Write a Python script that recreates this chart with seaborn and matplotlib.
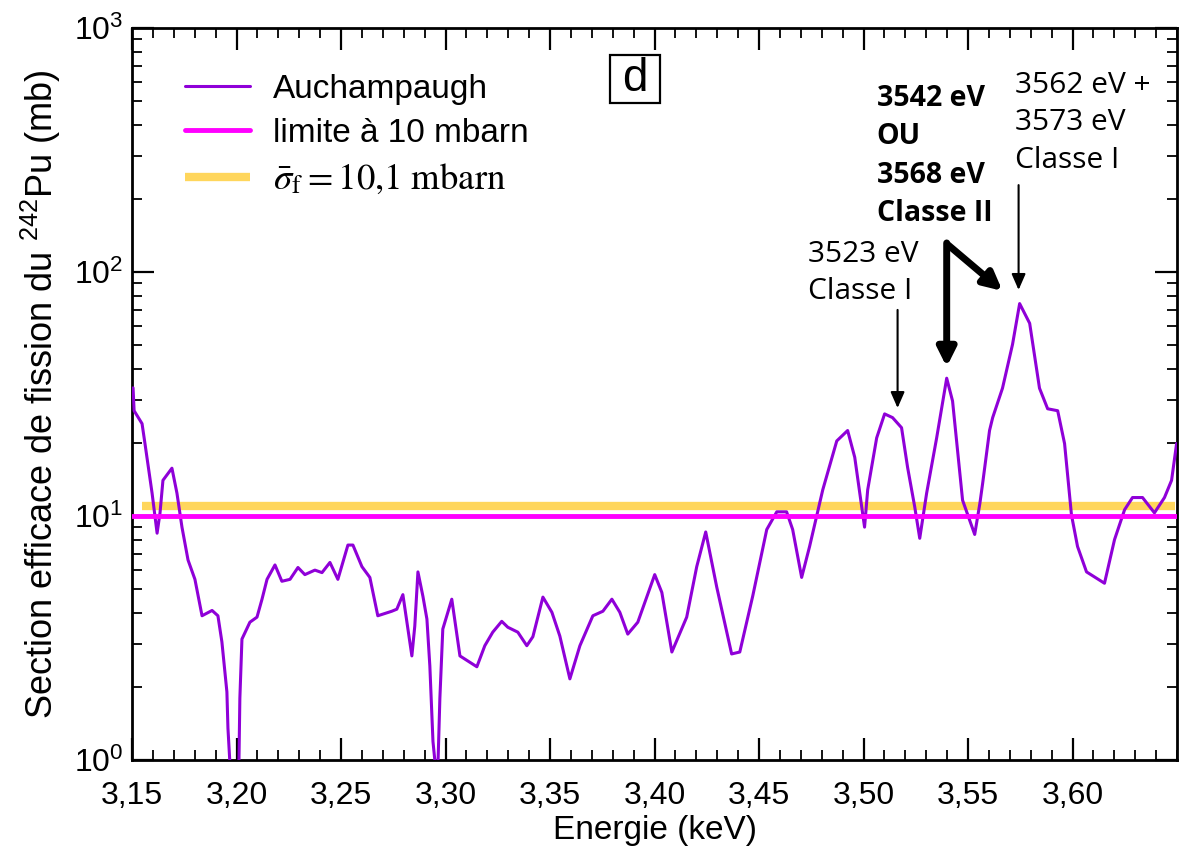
import numpy as np
import pandas as pd
import matplotlib
matplotlib.use("Agg")  # headless
import matplotlib.pyplot as plt
from matplotlib.font_manager import FontProperties
from matplotlib.patches import Rectangle
import seaborn as sns

# Auchampaugh data (keV, mb)
energy_kev = [3.1505, 3.151, 3.1548, 3.1562, 3.1596, 3.162, 3.1634, 3.1648, 3.1691, 3.1715,
              3.1739, 3.1768, 3.1801, 3.1835, 3.1883, 3.1911, 3.193, 3.1954, 3.1959, 3.1969,
              3.1985, 3.2005, 3.2016, 3.2026, 3.2064, 3.2098, 3.2122, 3.2146, 3.2184, 3.2217,
              3.2256, 3.2294, 3.2327, 3.2375, 3.2409, 3.2447, 3.2485, 3.2533, 3.2557, 3.26,
              3.2638, 3.2676, 3.2743, 3.2767, 3.2796, 3.282, 3.2839, 3.2853, 3.2868, 3.2892,
              3.2911, 3.2925, 3.294, 3.2954, 3.2963, 3.2973, 3.2987, 3.303, 3.3069, 3.315,
              3.3188, 3.3226, 3.3269, 3.3298, 3.3346, 3.3389, 3.3418, 3.3466, 3.3509, 3.3547,
              3.3595, 3.3643, 3.3705, 3.3753, 3.3796, 3.3834, 3.3872, 3.392, 3.4001, 3.4035,
              3.4083, 3.4154, 3.4202, 3.4245, 3.4298, 3.4369, 3.4408, 3.447, 3.4537, 3.4585,
              3.4632, 3.4661, 3.4704, 3.4742, 3.4805, 3.4872, 3.4924, 3.4958, 3.5005, 3.502,
              3.5063, 3.5101, 3.5139, 3.5182, 3.5211, 3.5245, 3.5269, 3.5302, 3.535, 3.5398,
              3.5426, 3.5474, 3.5532, 3.5557, 3.557, 3.5603, 3.5618, 3.5665, 3.5713, 3.5747,
              3.5795, 3.5842, 3.5881, 3.5929, 3.5962, 3.5995, 3.6024, 3.6067, 3.6153, 3.6201,
              3.6249, 3.6287, 3.6335, 3.6392, 3.644, 3.6474, 3.6498]
sigma_mb = [33.5, 27, 23.9, 19.8, 12.4, 8.5, 10.3, 14, 15.7, 12.4,
            9.0, 6.6, 5.5, 3.9, 4.1, 3.9, 3.05, 1.9, 1.35, 0.95,
            0.4, 0.4, 1.79, 3.13, 3.67, 3.85, 4.56, 5.5, 6.3, 5.4,
            5.5, 6.15, 5.75, 6.0, 5.86, 6.45, 5.5, 7.6, 7.6, 6.2,
            5.6, 3.9, 4.07, 4.15, 4.76, 3.44, 2.67, 3.54, 5.9, 4.68,
            3.78, 2.43, 1.19, 0.9, 0.9, 1.79, 3.44, 4.56, 2.67, 2.41,
            2.94, 3.34, 3.7, 3.5, 3.34, 2.94, 3.2, 4.65, 4.03, 3.22,
            2.15, 2.94, 3.9, 4.07, 4.56, 4.03, 3.28, 3.67, 5.75, 4.86,
            2.77, 3.85, 6.2, 8.6, 5.1, 2.72, 2.77, 4.7, 8.8, 10.4,
            10.4, 8.8, 5.6, 7.5, 12.8, 20.3, 22.4, 17.4, 9.0, 12.8,
            20.9, 26.2, 25.3, 23, 15.8, 10.9, 8.1, 12.4, 20.9, 36.7,
            29.6, 11.6, 8.4, 11.3, 13.6, 22.4, 25.3, 33.4, 50.5, 74.2,
            61.6, 33.4, 27.5, 27, 19.8, 10.1, 7.5, 5.9, 5.3, 8.0,
            10.6, 11.9, 11.9, 10.3, 11.9, 14, 19.8]

limit_mb = 10.0
mean_level_mb = 11.0          # as drawn in the picture (label says 10,1)
mean_span_kev = (3.155, 3.649)

x_ticks = [3.15, 3.20, 3.25, 3.30, 3.35, 3.40, 3.45, 3.50, 3.55, 3.60]
x_tick_labels = ["3,15", "3,20", "3,25", "3,30", "3,35", "3,40", "3,45", "3,50", "3,55", "3,60"]

df = pd.DataFrame({"E": energy_kev, "sigma": sigma_mb})

sns.set_theme(style="ticks", rc={"text.color": "black", "axes.labelcolor": "black",
                                 "axes.edgecolor": "black", "xtick.color": "black",
                                 "ytick.color": "black"})
plt.rcParams["font.family"] = ["Liberation Sans", "DejaVu Sans"]
plt.rcParams["mathtext.fontset"] = "custom"
plt.rcParams["mathtext.rm"] = "Liberation Sans"
plt.rcParams["mathtext.it"] = "Liberation Sans:italic"
plt.rcParams["mathtext.bf"] = "Liberation Sans:bold"

fig = plt.figure(figsize=(11.84, 8.5), dpi=100)
ax = fig.add_axes([0.1115, 0.1059, 0.8826, 0.8612])

ax.hlines(mean_level_mb, *mean_span_kev, color="#ffd65c", lw=6, zorder=2,
          label=r"$\bar{\sigma}_{\mathrm{f}} = 10{,}1\ \mathrm{mbarn}$")
sns.lineplot(data=df, x="E", y="sigma", ax=ax, color="#8f00d8", lw=2.2,
             label="Auchampaugh", zorder=3)
ax.axhline(limit_mb, color="#ff00ff", lw=3.5, zorder=4, label="limite à 10 mbarn")

ax.set_yscale("log")
ax.set_ylim(1, 1000)
ax.set_xlim(3.15, 3.65)
ax.set_xticks(x_ticks)
ax.set_xticklabels(x_tick_labels)
ax.set_xticks(np.arange(3.15, 3.6501, 0.01), minor=True)

for s in ax.spines.values():
    s.set_linewidth(2)
    s.set_visible(True)
    s.set_color("black")
ax.tick_params(which="both", direction="in", top=True, right=True, colors="black")
ax.tick_params(which="major", length=16, width=1.6, labelsize=23)
ax.tick_params(which="minor", length=7, width=1.3)
ax.tick_params(axis="x", which="major", pad=15)
ax.tick_params(axis="y", which="major", pad=6)

ax.set_xlabel("Energie (keV)", fontsize=24, labelpad=3)
ax.set_ylabel(r"Section efficace de fission du $^{242}$Pu (mb)", fontsize=26)
ax.yaxis.set_label_coords(-0.066, 0.5)

# legend: curve, limit, mean
h, l = ax.get_legend_handles_labels()
handles = [h[1], h[2], h[0]]
labels = [l[1], l[2], l[0]]
leg = ax.legend(handles, labels, loc="upper left", bbox_to_anchor=(0.022, 0.978),
                frameon=False, handlelength=1.95, labelspacing=0.38, handletextpad=0.7,
                prop=FontProperties(family="Liberation Sans", size=24, math_fontfamily="stix"))
for t in leg.get_texts():
    t.set_color("black")
leg.get_texts()[2].set_fontsize(26.5)

# panel tag
ax.add_patch(Rectangle((0.4574, 0.8975), 0.0479, 0.0656, transform=ax.transAxes,
                       fill=False, lw=1.6, ec="black", zorder=5))
ax.text(0.4813, 0.930, "d", transform=ax.transAxes, ha="center", va="center", fontsize=33,
        color="black")

# resonance annotations
ann_font = ["Open Sans", "DejaVu Sans"]
ax.text(3.5063, 299, "3542 eV\nOU\n3568 eV\nClasse II", fontsize=20.5, fontweight="bold",
        family=ann_font, ha="left", va="center", linespacing=1.42, color="black")
ax.text(3.5723, 408, "3562 eV +\n3573 eV\nClasse I", fontsize=21.5,
        family=ann_font, ha="left", va="center", linespacing=1.38, color="black")
ax.text(3.4733, 99, "3523 eV\nClasse I", fontsize=21.5,
        family=ann_font, ha="left", va="center", linespacing=1.38, color="black")

thin = dict(arrowstyle="-|>,head_width=0.35,head_length=0.8", color="black", lw=1.5,
            shrinkA=0, shrinkB=0)
thick = dict(arrowstyle="-|>,head_width=0.45,head_length=0.9", color="black", lw=5,
             shrinkA=0, shrinkB=0)
ax.annotate("", xy=(3.5742, 84.4), xytext=(3.5742, 227), arrowprops=thin)
ax.annotate("", xy=(3.5163, 27.7), xytext=(3.5163, 69.9), arrowprops=thin)
ax.annotate("", xy=(3.5398, 40.8), xytext=(3.5398, 131.5), arrowprops=thick)
ax.annotate("", xy=(3.5665, 83.6), xytext=(3.5405, 129), arrowprops=thick)

fig.savefig("out.png", dpi=100)
plt.close(fig)
print("wrote out.png")
